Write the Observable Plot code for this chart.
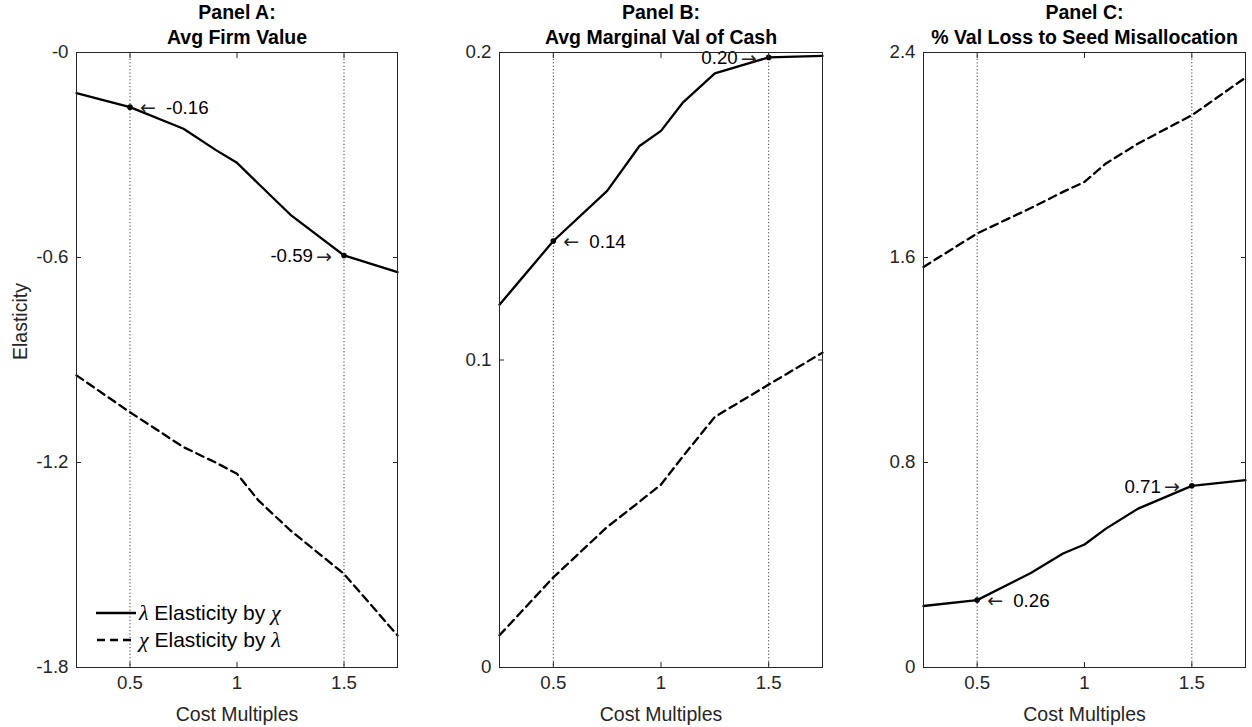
<!DOCTYPE html>
<html>
<head>
<meta charset="utf-8">
<script src="https://cdn.jsdelivr.net/npm/d3@7"></script>
<script src="https://cdn.jsdelivr.net/npm/@observablehq/plot@0.6"></script>
<style>
  html, body { margin: 0; padding: 0; background: #fff; }
  #wrap { position: relative; width: 1252px; height: 727px; overflow: hidden; font-family: "Liberation Sans", Arial, sans-serif; }
  .panel { position: absolute; top: 0; }
  #legend { position: absolute; left: 96px; top: 599px; font-size: 21px; color: #000; line-height: 27px; }
  #legend .row { display: flex; align-items: center; height: 27px; white-space: nowrap; }
  #legend svg { width: 40px; height: 10px; margin-right: 3px; }
  #legend i { font-family: "Liberation Serif", "DejaVu Serif", serif; font-style: italic; font-size: 22px; }
</style>
</head>
<body>
<div id="wrap">
  <div id="pA" class="panel" style="left:0px"></div>
  <div id="pB" class="panel" style="left:420px"></div>
  <div id="pC" class="panel" style="left:840px"></div>
  <div id="legend">
    <div class="row"><svg viewBox="0 0 40 10"><line x1="0" y1="5" x2="40" y2="5" stroke="#000" stroke-width="2.3"/></svg><span><i>λ</i> Elasticity by <i>χ</i></span></div>
    <div class="row"><svg viewBox="0 0 40 10"><line x1="1" y1="5" x2="40" y2="5" stroke="#000" stroke-width="2.3" stroke-dasharray="8,5"/></svg><span><i>χ</i> Elasticity by <i>λ</i></span></div>
  </div>
</div>
<script>
// ---- data ----
const costMultiples = [0.25, 0.5, 0.75, 0.9, 1.0, 1.1, 1.25, 1.5, 1.75];

const firmValueLambdaByChi = [-0.119, -0.160, -0.223, -0.285, -0.323, -0.384, -0.475, -0.594, -0.643];
const firmValueChiByLambda = [-0.945, -1.053, -1.155, -1.200, -1.233, -1.311, -1.399, -1.526, -1.706];

const cashLambdaByChi = [0.118, 0.1387, 0.155, 0.1696, 0.1745, 0.1836, 0.1932, 0.1984, 0.1989];
const cashChiByLambda = [0.0105, 0.0293, 0.0457, 0.0539, 0.0595, 0.0685, 0.0815, 0.0920, 0.1024];

const lossLambdaByChi = [0.240, 0.263, 0.369, 0.445, 0.480, 0.542, 0.620, 0.709, 0.731];
const lossChiByLambda = [1.563, 1.694, 1.793, 1.856, 1.895, 1.967, 2.045, 2.155, 2.302];

const xTicks = [0.5, 1, 1.5];
const xTickLabels = ["0.5", "1", "1.5"];
const markedX = [0.5, 1.5];

const yTicksA = [0, -0.6, -1.2, -1.8];
const yTickLabelsA = ["-0", "-0.6", "-1.2", "-1.8"];
const yTicksB = [0, 0.1, 0.2];
const yTickLabelsB = ["0", "0.1", "0.2"];
const yTicksC = [0, 0.8, 1.6, 2.4];
const yTickLabelsC = ["0", "0.8", "1.6", "2.4"];

const titles = ["Panel A:\nAvg Firm Value", "Panel B:\nAvg Marginal Val of Cash", "Panel C:\n% Val Loss to Seed Misallocation"];
const annotationsA = [{x: 0.5, label: "-0.16", side: "right"}, {x: 1.5, label: "-0.59", side: "left"}];
const annotationsB = [{x: 0.5, label: "0.14", side: "right"}, {x: 1.5, label: "0.20", side: "left"}];
const annotationsC = [{x: 0.5, label: "0.26", side: "right"}, {x: 1.5, label: "0.71", side: "left"}];

const axisColor = "#262626";
const fontFamily = "'Liberation Sans', Arial, Helvetica, sans-serif";
const arrowFont = "'DejaVu Sans', sans-serif";

function series(values) { return costMultiples.map((x, i) => ({x, y: values[i]})); }

function panel({el, width, marginLeft, marginRight, yDomain, yTicks, yTickLabels, solid, dashed, anns, title, ylabel}) {
  const solidData = series(solid);
  const dashedData = series(dashed);
  const annData = anns.map(a => ({...a, y: solid[costMultiples.indexOf(a.x)]}));
  const right = annData.filter(a => a.side === "right");
  const left = annData.filter(a => a.side === "left");
  const marks = [
    Plot.ruleX(markedX, {stroke: axisColor, strokeWidth: 0.9, strokeDasharray: "1.2,2.2"}),
    Plot.line(solidData, {x: "x", y: "y", stroke: "#000", strokeWidth: 2.3}),
    Plot.line(dashedData, {x: "x", y: "y", stroke: "#000", strokeWidth: 2.3, strokeDasharray: "8,5"}),
    Plot.dot(annData, {x: "x", y: "y", r: 2.8, fill: "#000", stroke: null}),
    Plot.text(right, {x: "x", y: "y", text: () => "←", textAnchor: "start", dx: 10, dy: 1, fontSize: 19, fontFamily: arrowFont, fill: "#222"}),
    Plot.text(right, {x: "x", y: "y", text: "label", textAnchor: "start", dx: 36, dy: 1, fontSize: 18.7, fill: "#000"}),
    Plot.text(left, {x: "x", y: "y", text: () => "→", textAnchor: "end", dx: -12, dy: 1, fontSize: 19, fontFamily: arrowFont, fill: "#222"}),
    Plot.text(left, {x: "x", y: "y", text: "label", textAnchor: "end", dx: -31, dy: 1, fontSize: 18.7, fill: "#000"}),
    Plot.frame({stroke: axisColor, strokeWidth: 1}),
    Plot.axisX(xTicks, {anchor: "bottom", tickSize: -5, tickPadding: 13, tickFormat: d => xTickLabels[xTicks.indexOf(d)], label: null, fontSize: 18.7, color: axisColor}),
    Plot.axisX(xTicks, {anchor: "top", tickSize: -5, tickFormat: () => "", label: null, color: axisColor}),
    Plot.axisY(yTicks, {anchor: "left", tickSize: -5, tickPadding: 13, tickFormat: d => yTickLabels[yTicks.indexOf(d)], label: null, fontSize: 18.7, color: axisColor}),
    Plot.axisY(yTicks, {anchor: "right", tickSize: -5, tickFormat: () => "", label: null, color: axisColor}),
    Plot.text(["Cost Multiples"], {frameAnchor: "bottom", text: d => d, dy: 47, lineAnchor: "middle", fontSize: 19.5, fill: axisColor}),
    Plot.text([title], {frameAnchor: "top", text: d => d, dy: -9, lineAnchor: "bottom", lineHeight: 1.25, fontSize: 19.5, fontWeight: "bold", fill: "#000"})
  ];
  if (ylabel) marks.push(Plot.text([ylabel], {frameAnchor: "left", text: d => d, rotate: -90, dx: -56, lineAnchor: "middle", fontSize: 19.5, fill: axisColor}));
  const chart = Plot.plot({
    width, height: 727,
    marginTop: 52, marginBottom: 60, marginLeft, marginRight,
    style: {fontFamily, fontSize: "18.7px", background: "transparent", overflow: "visible", color: axisColor},
    x: {domain: [0.25, 1.75]},
    y: {domain: yDomain},
    marks
  });
  document.getElementById(el).appendChild(chart);
}

panel({el: "pA", width: 410, marginLeft: 76, marginRight: 13, yDomain: [-1.8, 0], yTicks: yTicksA, yTickLabels: yTickLabelsA,
  solid: firmValueLambdaByChi, dashed: firmValueChiByLambda, anns: annotationsA, title: titles[0], ylabel: "Elasticity"});
panel({el: "pB", width: 420, marginLeft: 79, marginRight: 18, yDomain: [0, 0.2], yTicks: yTicksB, yTickLabels: yTickLabelsB,
  solid: cashLambdaByChi, dashed: cashChiByLambda, anns: annotationsB, title: titles[1]});
panel({el: "pC", width: 412, marginLeft: 83, marginRight: 7, yDomain: [0, 2.4], yTicks: yTicksC, yTickLabels: yTickLabelsC,
  solid: lossLambdaByChi, dashed: lossChiByLambda, anns: annotationsC, title: titles[2]});
</script>
</body>
</html>
